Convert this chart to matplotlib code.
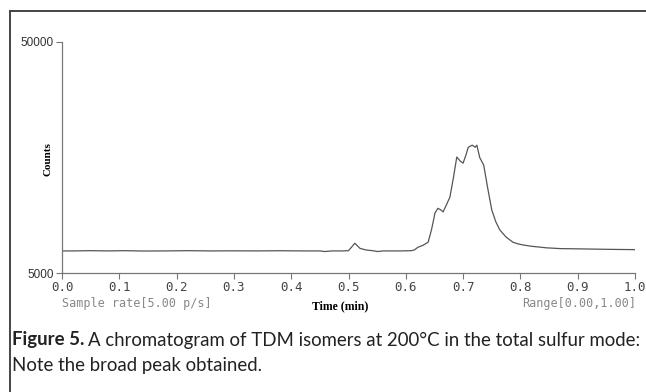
import matplotlib
matplotlib.use("Agg")
import matplotlib.pyplot as plt
from matplotlib.lines import Line2D

# chromatogram trace
time_min = [0.00, 0.02, 0.05, 0.08, 0.11, 0.14, 0.18, 0.22, 0.26, 0.30,
            0.34, 0.38, 0.42, 0.45, 0.459, 0.47, 0.49, 0.50, 0.505, 0.511,
            0.52, 0.53, 0.545, 0.551, 0.56, 0.59, 0.61, 0.615, 0.621, 0.63,
            0.639, 0.645, 0.651, 0.656, 0.661, 0.665, 0.671, 0.677, 0.683, 0.689,
            0.695, 0.700, 0.705, 0.709, 0.716, 0.721, 0.724, 0.729, 0.736, 0.743,
            0.750, 0.757, 0.764, 0.775, 0.787, 0.795, 0.805, 0.82, 0.846, 0.87,
            0.904, 0.93, 0.96, 1.00]
counts = [9300, 9300, 9350, 9300, 9350, 9280, 9300, 9350, 9300, 9320,
          9300, 9340, 9300, 9300, 9180, 9300, 9300, 9350, 10000, 10800,
          9800, 9500, 9300, 9180, 9300, 9300, 9350, 9500, 10000, 10400,
          11000, 13500, 16700, 17600, 17300, 16900, 18300, 19800, 23500, 27600,
          26800, 26400, 28000, 29500, 29900, 29500, 29900, 27500, 26000, 21500,
          17300, 15000, 13400, 12000, 11000, 10700, 10450, 10200, 9900, 9750,
          9700, 9650, 9600, 9550]

xticks = [0.0, 0.1, 0.2, 0.3, 0.4, 0.5, 0.6, 0.7, 0.8, 0.9, 1.0]
yticks = [5000, 50000]

W, H = 646, 392
fig = plt.figure(figsize=(W / 100, H / 100), dpi=100)
ax = fig.add_axes([62 / W, (H - 273) / H, (635 - 62) / W, (273 - 42) / H])

ax.plot(time_min, counts, color="#555555", lw=0.9)
ax.set_xlim(0, 1)
ax.set_ylim(5000, 50000)

for s in ["top", "right"]:
    ax.spines[s].set_visible(False)
for s in ["left", "bottom"]:
    ax.spines[s].set_color("#777777")
    ax.spines[s].set_linewidth(0.9)

ax.set_yticks(yticks)
ax.set_yticklabels([str(v) for v in yticks], family="Liberation Sans",
                   fontsize=8.5, color="#333333")
ax.set_xticks(xticks)
ax.set_xticklabels(["%.1f" % v for v in xticks], family="DejaVu Sans Mono",
                   fontsize=9, color="#444444")
ax.tick_params(axis="both", direction="out", length=4, width=0.8,
               color="#777777", pad=2)

fig.text(48 / W, 1 - 159 / H, "Counts", rotation=90, ha="center", va="center",
         family="Liberation Serif", weight="bold", fontsize=8)
fig.text(340 / W, 1 - 306 / H, "Time (min)", ha="center", va="center",
         family="Liberation Serif", weight="bold", fontsize=8.5)
fig.text(62 / W, 1 - 304 / H, "Sample rate[5.00 p/s]", ha="left", va="center",
         family="DejaVu Sans Mono", fontsize=8.5, color="#888888")
fig.text(636 / W, 1 - 304 / H, "Range[0.00,1.00]", ha="right", va="center",
         family="DejaVu Sans Mono", fontsize=8.5, color="#888888")

# outer frame (top and left edges only)
fig.add_artist(Line2D([9.5 / W, 1.0], [1 - 11 / H, 1 - 11 / H],
                      transform=fig.transFigure, color="#444444", lw=1.4))
fig.add_artist(Line2D([9.5 / W, 9.5 / W], [0, 1 - 11 / H],
                      transform=fig.transFigure, color="#444444", lw=1.4))

# caption
cap_font = ["Lato", "DejaVu Sans"]
cap_size = 13.4
renderer = fig.canvas.get_renderer()
t1 = fig.text(12 / W, 1 - 340 / H, "Figure 5.", family=cap_font, weight="bold",
              fontsize=cap_size, va="center", color="#222222")
bb = t1.get_window_extent(renderer)
t2 = fig.text(bb.x1 / W + 4 / W, 1 - 340 / H,
              "A chromatogram of TDM isomers at 200°C in the total sulfur mode:",
              family=cap_font, fontsize=cap_size, va="center", color="#222222")
fig.text(12 / W, 1 - 365 / H, "Note the broad peak obtained.", family=cap_font,
         fontsize=cap_size, va="center", color="#222222")

fig.savefig("out.png", dpi=100)
